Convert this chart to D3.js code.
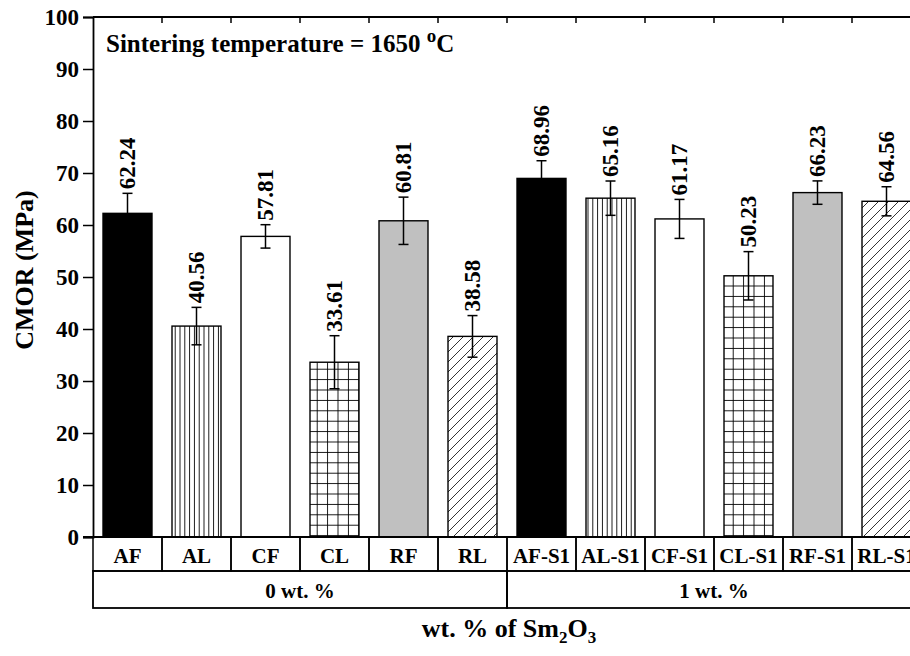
<!DOCTYPE html>
<html>
<head>
<meta charset="utf-8">
<script src="https://cdn.jsdelivr.net/npm/d3@7"></script>
<style>
  html, body { margin: 0; padding: 0; background: #fff; }
  svg { display: block; overflow: hidden; }
  text { font-family: "Liberation Serif", "Times New Roman", serif; font-weight: bold; fill: #000; }
</style>
</head>
<body>
<div id="chart"></div>
<script>
// data
const categories = ['AF', 'AL', 'CF', 'CL', 'RF', 'RL', 'AF-S1', 'AL-S1', 'CF-S1', 'CL-S1', 'RF-S1', 'RL-S1'];
const values = [62.24, 40.56, 57.81, 33.61, 60.81, 38.58, 68.96, 65.16, 61.17, 50.23, 66.23, 64.56];
const errors = [3.85, 3.6, 2.25, 5.1, 4.55, 4.0, 3.4, 3.3, 3.75, 4.65, 2.25, 2.8];
const groups = ['0 wt. %', '1 wt. %'];
const yTicks = [0, 10, 20, 30, 40, 50, 60, 70, 80, 90, 100];

const W = 910, H = 656;
const mLeft = 93, mRight = 921, mTop = 17, mBottom = 537;

const svg = d3.select('#chart').append('svg')
  .attr('width', W).attr('height', H);

// patterns
const defs = svg.append('defs');
const vert = defs.append('pattern').attr('id', 'vert')
  .attr('patternUnits', 'userSpaceOnUse').attr('width', 4.8).attr('height', 10);
vert.append('rect').attr('width', 4.8).attr('height', 10).attr('fill', '#fff');
vert.append('line').attr('x1', 2.4).attr('x2', 2.4).attr('y1', 0).attr('y2', 10)
  .attr('stroke', '#000').attr('stroke-width', 0.9);

const grid = defs.append('pattern').attr('id', 'grid')
  .attr('patternUnits', 'userSpaceOnUse').attr('width', 10.4).attr('height', 10.4);
grid.append('rect').attr('width', 10.4).attr('height', 10.4).attr('fill', '#fff');
grid.append('path').attr('d', 'M5.2,0V10.4M0,5.2H10.4')
  .attr('stroke', '#000').attr('stroke-width', 0.9);

const diag = defs.append('pattern').attr('id', 'diag')
  .attr('patternUnits', 'userSpaceOnUse').attr('width', 10).attr('height', 10);
diag.append('rect').attr('width', 10).attr('height', 10).attr('fill', '#fff');
diag.append('path').attr('d', 'M-1,11L11,-1M-6,6L6,-6M4,16L16,4')
  .attr('stroke', '#000').attr('stroke-width', 0.8);

const fills = ['#000', 'url(#vert)', '#fff', 'url(#grid)', '#c0c0c0', 'url(#diag)'];

// scales
const x = d3.scaleBand().domain(categories).range([mLeft, mRight])
  .paddingInner(0.29).paddingOuter(0.145);
const y = d3.scaleLinear().domain([0, 100]).range([mBottom, mTop]);
const step = x.step();

// bars
svg.append('g').selectAll('rect')
  .data(categories)
  .join('rect')
  .attr('x', d => x(d))
  .attr('y', (d, i) => y(values[i]))
  .attr('width', x.bandwidth())
  .attr('height', (d, i) => y(0) - y(values[i]))
  .attr('fill', (d, i) => fills[i % 6])
  .attr('stroke', '#000')
  .attr('stroke-width', 1.4);

// error bars
const eb = svg.append('g').attr('stroke', '#000').attr('stroke-width', 1.5);
categories.forEach((c, i) => {
  const cx = x(c) + x.bandwidth() / 2;
  const y1 = y(values[i] + errors[i]), y2 = y(values[i] - errors[i]);
  eb.append('line').attr('x1', cx).attr('x2', cx).attr('y1', y1).attr('y2', y2);
  eb.append('line').attr('x1', cx - 5).attr('x2', cx + 5).attr('y1', y1).attr('y2', y1);
  eb.append('line').attr('x1', cx - 5).attr('x2', cx + 5).attr('y1', y2).attr('y2', y2);
});

// value labels
svg.append('g').selectAll('text')
  .data(categories)
  .join('text')
  .attr('transform', (d, i) => `translate(${x(d) + x.bandwidth() / 2},${y(values[i] + errors[i]) - 4}) rotate(-90)`)
  .attr('dominant-baseline', 'central')
  .attr('font-size', 23)
  .text((d, i) => values[i].toFixed(2));

// y axis
const yAxis = svg.append('g').attr('transform', `translate(${mLeft},0)`)
  .call(d3.axisLeft(y).tickValues(yTicks).tickSize(10).tickPadding(4));
yAxis.select('.domain').attr('stroke-width', 1.8);
yAxis.selectAll('.tick line').attr('stroke-width', 1.5);
yAxis.selectAll('.tick text').attr('font-size', 23).attr('font-family', null);

// top axis with inner ticks at band boundaries
const topAxis = svg.append('g');
topAxis.append('line').attr('x1', mLeft).attr('x2', mRight).attr('y1', mTop).attr('y2', mTop)
  .attr('stroke', '#000').attr('stroke-width', 1.8);
categories.slice(1).forEach((c, i) => {
  const bx = mLeft + step * (i + 1);
  topAxis.append('line').attr('x1', bx).attr('x2', bx).attr('y1', mTop).attr('y2', mTop + 6)
    .attr('stroke', '#000').attr('stroke-width', 1.5);
});

// bottom baseline
svg.append('line').attr('x1', mLeft - 10).attr('x2', mRight).attr('y1', mBottom).attr('y2', mBottom)
  .attr('stroke', '#000').attr('stroke-width', 1.8);

// category label boxes
const row1 = 571, row2 = 608;
const lab = svg.append('g');
categories.forEach((c, i) => {
  const bx = mLeft + step * i;
  lab.append('rect').attr('x', bx).attr('y', mBottom).attr('width', step).attr('height', row1 - mBottom)
    .attr('fill', 'none').attr('stroke', '#000').attr('stroke-width', 1.5);
  lab.append('text').attr('x', bx + step / 2).attr('y', 563)
    .attr('text-anchor', 'middle').attr('font-size', 21).text(c);
});
groups.forEach((g, i) => {
  const gx = mLeft + step * 6 * i;
  lab.append('rect').attr('x', gx).attr('y', row1).attr('width', step * 6).attr('height', row2 - row1)
    .attr('fill', 'none').attr('stroke', '#000').attr('stroke-width', 1.8);
  lab.append('text').attr('x', gx + step * 3).attr('y', 598)
    .attr('text-anchor', 'middle').attr('font-size', 21).text(g);
});

// title inside plot
const title = svg.append('text').attr('x', 106).attr('y', 52).attr('font-size', 25);
title.append('tspan').text('Sintering temperature = 1650 ');
title.append('tspan').attr('font-size', 19).attr('dy', -10).text('o');
title.append('tspan').attr('dy', 10).text('C');

// axis titles
svg.append('text')
  .attr('transform', `translate(33,270) rotate(-90)`)
  .attr('text-anchor', 'middle').attr('font-size', 26)
  .text('CMOR (MPa)');

const xt = svg.append('text').attr('x', 509).attr('y', 637)
  .attr('text-anchor', 'middle').attr('font-size', 26);
xt.append('tspan').text('wt. % of Sm');
xt.append('tspan').attr('font-size', 17).attr('dy', 6).text('2');
xt.append('tspan').attr('dy', -6).text('O');
xt.append('tspan').attr('font-size', 17).attr('dy', 6).text('3');
</script>
</body>
</html>
